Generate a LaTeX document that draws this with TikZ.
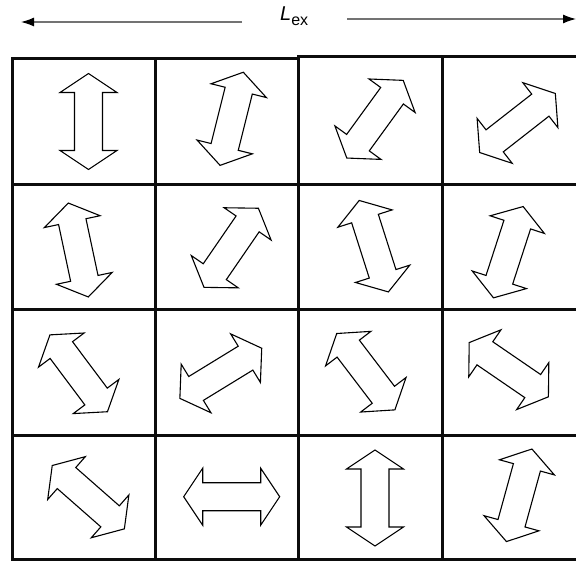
\documentclass[tikz,border=0pt]{standalone}
\usepackage{fontspec}
\setmainfont{Liberation Sans}
\usetikzlibrary{arrows.meta}
\tikzset{
  gridline/.style={line width=3pt, black!95, line cap=rect},
  dimline/.style={line width=1.2pt, black!55},
  dimtip/.style={-{Latex[length=13pt,width=9pt,color=black]}},
  blockarrow/.style={draw=black, line width=1.1pt, line join=miter, fill=white},
  dbl/.pic={\draw[blockarrow] (48,0) -- (29,28.5) -- (29,14) -- (-29,14) -- (-29,28.5) -- (-48,0)
      -- (-29,-28.5) -- (-29,-14) -- (29,-14) -- (29,-28.5) -- cycle;}
}
\begin{document}
\begin{tikzpicture}[x=1pt,y=-1pt]
\useasboundingbox (0,0) rectangle (576,561);
% dimension L_ex
\node[anchor=base west, inner sep=0pt] (lab) at (280,21)
  {\fontsize{20}{22}\selectfont\textit{L}\raisebox{-5pt}{\fontsize{16}{18}\selectfont ex}};
\coordinate (ltip) at (21,22);
\coordinate (lend) at (242,22);
\coordinate (rstart) at (347,19);
\coordinate (rtip) at (576,19);
\draw[dimline, dimtip] (lend) -- (ltip);
\draw[dimline, dimtip] (rstart) -- (rtip);
% grid
\draw[gridline] (12,59) -- (298,59);
\draw[gridline] (298,57) -- (590,57);
\foreach \yy in {185,310,435.5,559.5} \draw[gridline] (12,\yy) -- (590,\yy);
\draw[gridline] (12,59) -- (12,559.5);
\draw[gridline] (155,59) -- (155,559.5);
\draw[gridline] (298,57) -- (298,559.5);
\draw[gridline] (442,57) -- (442,559.5);
% block arrows
\foreach \cx/\cy/\ang in {
  88.5/121.5/90, 231.7/118.8/76, 375/119.2/54, 517.5/123/38,
  78.3/250/102, 231.2/247.8/55.5, 373.8/246.2/107.7, 508.3/252.2/72,
  78.7/373.3/126.8, 220.8/373.3/31.5, 365.8/371.7/127.3, 508.8/369.7/145.6,
  88.3/497.2/138.7, 231.7/496.7/0, 375/498/90, 519.2/495.3/74.6}
  \pic[rotate=\ang] at (\cx,\cy) {dbl};
\end{tikzpicture}
\end{document}
